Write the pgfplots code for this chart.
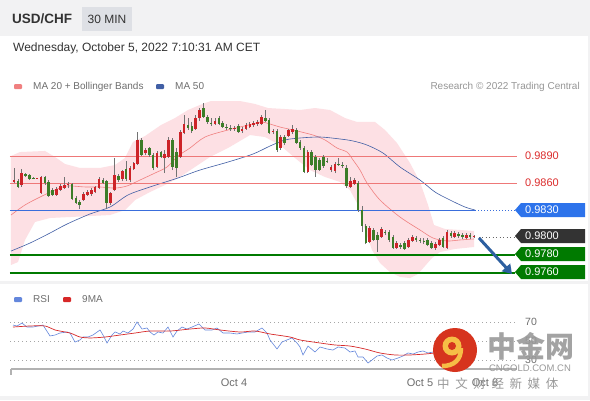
\documentclass[border=0pt]{standalone}
\usepackage{pgfplots}
\pgfplotsset{compat=1.18}
\usepackage{pgfplotstable}
\usetikzlibrary{arrows.meta}
\usepackage{fontspec}
\setmainfont{Liberation Sans}
\newfontfamily\cjk{Noto Sans CJK SC}

\definecolor{bandpink}{RGB}{253,224,228}
\definecolor{ma20}{RGB}{240,128,128}
\definecolor{ma50}{RGB}{65,95,165}
\definecolor{lvlred}{RGB}{238,120,120}
\definecolor{lvltxt}{RGB}{220,45,45}
\definecolor{lvlblue}{RGB}{58,110,220}
\definecolor{tagblue}{RGB}{45,115,235}
\definecolor{tagdark}{RGB}{51,51,51}
\definecolor{lvlgreen}{RGB}{0,122,0}
\definecolor{wick}{RGB}{115,115,115}
\definecolor{rsiblue}{RGB}{100,135,220}
\definecolor{rsired}{RGB}{215,40,40}
\definecolor{arrowblue}{RGB}{45,95,160}
\definecolor{hdrgray}{RGB}{242,242,243}
\definecolor{boxgray}{RGB}{222,224,229}
\definecolor{txtdark}{RGB}{51,51,51}
\definecolor{txtmid}{RGB}{110,110,110}
\definecolor{txtlight}{RGB}{150,150,150}
\definecolor{logored}{RGB}{214,52,30}
\definecolor{logoyel}{RGB}{246,190,70}

\pgfplotstableread{
i o h l c
0 0.98611 0.98767 0.98600 0.98633
1 0.98622 0.98644 0.98544 0.98556
2 0.98578 0.98756 0.98556 0.98711
3 0.98700 0.98711 0.98667 0.98678
4 0.98689 0.98700 0.98633 0.98644
5 0.98656 0.98667 0.98644 0.98650
6 0.98650 0.98661 0.98644 0.98656
7 0.98489 0.98678 0.98478 0.98667
8 0.98667 0.98678 0.98578 0.98600
9 0.98611 0.98633 0.98444 0.98456
10 0.98522 0.98544 0.98456 0.98467
11 0.98467 0.98556 0.98456 0.98533
12 0.98522 0.98589 0.98511 0.98567
13 0.98544 0.98667 0.98533 0.98578
14 0.98578 0.98611 0.98544 0.98589
15 0.98589 0.98600 0.98411 0.98422
16 0.98433 0.98456 0.98367 0.98378
17 0.98389 0.98411 0.98311 0.98356
18 0.98411 0.98500 0.98400 0.98478
19 0.98467 0.98522 0.98456 0.98500
20 0.98478 0.98544 0.98456 0.98522
21 0.98500 0.98567 0.98489 0.98556
22 0.98544 0.98667 0.98533 0.98644
23 0.98633 0.98656 0.98589 0.98600
24 0.98622 0.98633 0.98311 0.98378
25 0.98378 0.98500 0.98356 0.98489
26 0.98522 0.98878 0.98511 0.98689
27 0.98678 0.98700 0.98611 0.98633
28 0.98644 0.98744 0.98622 0.98733
29 0.98756 0.98844 0.98622 0.98644
30 0.98633 0.98789 0.98611 0.98767
31 0.98756 0.98833 0.98744 0.98822
32 0.98811 0.99167 0.98800 0.99078
33 0.99078 0.99100 0.98900 0.98911
34 0.98933 0.98989 0.98911 0.98967
35 0.98989 0.99000 0.98889 0.98911
36 0.98911 0.98933 0.98744 0.98767
37 0.98778 0.98956 0.98767 0.98933
38 0.98944 0.98956 0.98878 0.98889
39 0.98878 0.98967 0.98711 0.98922
40 0.98889 0.99111 0.98878 0.99078
41 0.99078 0.99100 0.98744 0.98778
42 0.98944 0.98989 0.98667 0.98767
43 0.98889 0.99189 0.98878 0.99167
44 0.99156 0.99356 0.99144 0.99256
45 0.99244 0.99322 0.99189 0.99211
46 0.99233 0.99278 0.99156 0.99178
47 0.99200 0.99356 0.99189 0.99322
48 0.99322 0.99433 0.99289 0.99411
49 0.99433 0.99489 0.99322 0.99333
50 0.99333 0.99356 0.99256 0.99278
51 0.99267 0.99322 0.99233 0.99256
52 0.99256 0.99322 0.99244 0.99289
53 0.99322 0.99344 0.99244 0.99256
54 0.99267 0.99289 0.99211 0.99222
55 0.99222 0.99256 0.99189 0.99211
56 0.99211 0.99244 0.99178 0.99200
57 0.99200 0.99233 0.99178 0.99211
58 0.99233 0.99256 0.99156 0.99167
59 0.99178 0.99222 0.99156 0.99200
60 0.99200 0.99267 0.99189 0.99244
61 0.99222 0.99278 0.99211 0.99256
62 0.99244 0.99289 0.99222 0.99267
63 0.99256 0.99300 0.99233 0.99278
64 0.99256 0.99356 0.99244 0.99333
65 0.99322 0.99411 0.99278 0.99289
66 0.99300 0.99322 0.99144 0.99156
67 0.99167 0.99200 0.99144 0.99178
68 0.99178 0.99200 0.98944 0.98967
69 0.98989 0.99133 0.98967 0.99111
70 0.99111 0.99133 0.99022 0.99044
71 0.99122 0.99200 0.99111 0.99189
72 0.99167 0.99244 0.99144 0.99200
73 0.99189 0.99211 0.99033 0.99044
74 0.99056 0.99078 0.98967 0.98989
75 0.98989 0.99011 0.98711 0.98722
76 0.98722 0.98967 0.98711 0.98944
77 0.98944 0.98967 0.98789 0.98800
78 0.98889 0.98911 0.98667 0.98744
79 0.98856 0.98878 0.98733 0.98744
80 0.98889 0.98911 0.98767 0.98789
81 0.98844 0.98878 0.98822 0.98833
82 0.98744 0.98800 0.98722 0.98778
83 0.98733 0.98833 0.98711 0.98811
84 0.98811 0.98878 0.98789 0.98800
85 0.98800 0.98833 0.98767 0.98789
86 0.98767 0.98800 0.98544 0.98567
87 0.98556 0.98667 0.98544 0.98622
88 0.98589 0.98656 0.98578 0.98633
89 0.98600 0.98622 0.98278 0.98300
90 0.98300 0.98344 0.98056 0.98122
91 0.98122 0.98144 0.97922 0.97933
92 0.97944 0.98122 0.97933 0.98100
93 0.98078 0.98100 0.97956 0.97967
94 0.98022 0.98056 0.97833 0.97967
95 0.98000 0.98111 0.97989 0.98089
96 0.98056 0.98078 0.98022 0.98044
97 0.98056 0.98078 0.97944 0.97967
98 0.98000 0.98022 0.97867 0.97878
99 0.97878 0.97956 0.97867 0.97933
100 0.97911 0.97933 0.97867 0.97889
101 0.97933 0.97956 0.97856 0.97867
102 0.97889 0.97989 0.97878 0.97967
103 0.97956 0.98022 0.97944 0.98000
104 0.97989 0.98011 0.97944 0.97967
105 0.97967 0.97989 0.97933 0.97956
106 0.97956 0.97989 0.97922 0.97944
107 0.97967 0.97989 0.97900 0.97911
108 0.97933 0.97956 0.97867 0.97878
109 0.97878 0.97944 0.97856 0.97922
110 0.97911 0.97989 0.97900 0.97967
111 0.97989 0.98011 0.97878 0.97889
112 0.97878 0.98078 0.97867 0.98056
113 0.98044 0.98067 0.97989 0.98011
114 0.98000 0.98067 0.97989 0.98044
115 0.98033 0.98056 0.97989 0.98011
116 0.98022 0.98044 0.97978 0.98000
117 0.97989 0.98044 0.97978 0.98022
118 0.98022 0.98044 0.97978 0.98000
119 0.98000 0.98022 0.97989 0.98006
}\candles

\begin{document}
\begin{tikzpicture}
\begin{scope}[x=1pt,y=-1pt]
\path[use as bounding box] (0,0) rectangle (590,400);
\fill[hdrgray] (0,0) rectangle (590,400);
\fill[white] (0,36) rectangle (588,396);
\fill[boxgray] (82,7) rectangle (132,31);
\node[anchor=west, inner sep=0, font=\fontsize{13.5}{16}\selectfont\bfseries, text=txtdark] at (12,19) {USD/CHF};
\node[inner sep=0, font=\fontsize{12}{14}\selectfont, text=txtdark] at (107,19) {30 MIN};
\node[anchor=west, inner sep=0, font=\fontsize{12}{14}\selectfont, text=txtdark] at (13,48.5) {Wednesday, October 5, 2022 7:10:31 AM CET};
\fill[ma20, rounded corners=1pt] (14,84) rectangle (22,89);
\node[anchor=west, inner sep=0, font=\fontsize{10}{12}\selectfont, text=txtmid] at (33,86.5) {MA 20 + Bollinger Bands};
\fill[ma50, rounded corners=1pt] (156,84) rectangle (164,89);
\node[anchor=west, inner sep=0, font=\fontsize{10}{12}\selectfont, text=txtmid] at (175,86.5) {MA 50};
\node[anchor=east, inner sep=0, font=\fontsize{10}{12}\selectfont, text=txtlight] at (580,86.5) {Research © 2022 Trading Central};
\fill[hdrgray] (0,281) rectangle (588,284);
\end{scope}

\begin{axis}[at={(10pt,-282pt)}, anchor=south west, scale only axis,
  width=505pt, height=186pt, xmin=-1.035, xmax=129.59, ymin=0.975, ymax=0.995667,
  hide axis, clip=false,
  colormap={updown}{rgb255(0cm)=(60,125,40); rgb255(1cm)=(205,35,40)},
  point meta min=0, point meta max=1]
% Bollinger band: upper band left to right, then lower band right to left
\addplot[fill=bandpink, draw=none] coordinates {
(-0.78,0.98900) (1.55,0.98944) (8.02,0.98956) (10.61,0.98889) (13.19,0.98811) (17.07,0.98767)
(22.25,0.98767) (26.13,0.98800) (28.71,0.98878) (30.78,0.99056) (33.89,0.99122) (38.02,0.99244)
(41.65,0.99322) (45.01,0.99411) (48.11,0.99467) (50.96,0.99511) (58.46,0.99511) (62.34,0.99478)
(65.70,0.99433) (70.10,0.99422) (73.98,0.99411) (77.86,0.99433) (81.74,0.99411) (85.62,0.99322)
(88.72,0.99278) (93.38,0.99278) (95.96,0.99189) (99.07,0.99044) (102.43,0.98822) (105.02,0.98611)
(107.09,0.98356) (108.64,0.98133) (111.48,0.98089) (115.36,0.98078) (118.99,0.98067)
(118.99,0.97889) (114.07,0.97867) (110.19,0.97833) (108.12,0.97767) (106.31,0.97678) (104.50,0.97589)
(102.43,0.97544) (99.84,0.97556) (97.26,0.97611) (94.67,0.97711) (92.60,0.97856) (90.79,0.98078)
(88.98,0.98356) (86.91,0.98522) (84.35,0.98611) (80.45,0.98667) (76.57,0.98744) (72.68,0.98878)
(68.81,0.99022) (64.92,0.99111) (61.05,0.99133) (55.35,0.98989) (50.70,0.98889) (46.82,0.98778)
(42.94,0.98667) (39.06,0.98578) (35.18,0.98500) (31.30,0.98411) (28.71,0.98300) (24.83,0.98244)
(19.66,0.98233) (14.49,0.98222) (9.31,0.98211) (5.43,0.98167) (2.85,0.97967) (1.03,0.97722)
(-0.78,0.97689)} -- cycle;
% MA 20
\addplot[ma20, line width=0.6pt, smooth] coordinates {
(-0.78,0.98244) (2.85,0.98356) (6.73,0.98444) (10.61,0.98522) (13.71,0.98567) (18.37,0.98556)
(22.25,0.98556) (26.13,0.98544) (29.23,0.98567) (32.59,0.98633) (36.47,0.98711) (39.58,0.98778)
(42.42,0.98900) (45.53,0.98989) (49.41,0.99111) (55.35,0.99189) (61.82,0.99256) (64.15,0.99278)
(68.81,0.99222) (72.17,0.99189) (77.34,0.99133) (80.45,0.99078) (83.55,0.98989) (86.14,0.98944)
(87.69,0.98856) (89.50,0.98744) (91.31,0.98600) (94.67,0.98411) (99.84,0.98222) (105.02,0.98078)
(108.38,0.97989) (112.00,0.97956) (115.36,0.97967) (118.99,0.97978)};
% MA 50
\addplot[ma50, line width=0.6pt, smooth] coordinates {
(-0.78,0.97844) (4.14,0.97933) (9.31,0.98044) (13.71,0.98144) (19.66,0.98256) (24.83,0.98333)
(29.49,0.98467) (35.18,0.98556) (42.42,0.98656) (48.11,0.98744) (55.35,0.98833) (61.82,0.98922)
(66.22,0.99011) (70.10,0.99078) (73.98,0.99100) (79.15,0.99111) (84.35,0.99089) (87.69,0.99067)
(91.31,0.99022) (95.45,0.98933) (99.84,0.98778) (105.02,0.98633) (108.90,0.98500) (112.78,0.98411)
(116.66,0.98333) (119.25,0.98300)};
% levels
\addplot[lvlred, line width=0.7pt] coordinates {(-1.035,0.9890) (130.1,0.9890)};
\addplot[lvlred, line width=0.7pt] coordinates {(-1.035,0.9860) (130.1,0.9860)};
\addplot[lvlblue, line width=0.9pt] coordinates {(-1.035,0.9830) (119.25,0.9830)};
\addplot[lvlblue, line width=0.9pt, dash pattern=on 1pt off 2pt] coordinates {(119.25,0.9830) (129.59,0.9830)};
\addplot[black!60, line width=0.8pt, dash pattern=on 1pt off 2.5pt] coordinates {(120.2,0.9800) (129.59,0.9800)};
\addplot[lvlgreen, line width=2pt] coordinates {(-1.035,0.9780) (129.59,0.9780)};
\addplot[lvlgreen, line width=2pt] coordinates {(-1.035,0.9760) (129.59,0.9760)};
% candles
\addplot[wick, line width=0.7pt, no markers, quiver={u=0, v=\thisrow{h}-\thisrow{l}}] table[x=i, y=l] {\candles};
\addplot[line width=2.6pt, no markers, point meta={\thisrow{c}>\thisrow{o}},
  quiver={u=0, v=\thisrow{c}-\thisrow{o}, colored=mapped color}] table[x=i, y=o] {\candles};
\end{axis}

\begin{axis}[at={(10pt,-369pt)}, anchor=south west, scale only axis,
  width=505pt, height=64pt, xmin=-1.035, xmax=129.59, ymin=20.53, ymax=87.89,
  hide axis, clip=false]
\addplot[black!35, line width=0.7pt, dash pattern=on 1pt off 3pt] coordinates {(-1.035,70) (129.59,70)};
\addplot[black!35, line width=0.7pt, dash pattern=on 1pt off 3pt] coordinates {(-1.035,50) (129.59,50)};
\addplot[black!35, line width=0.7pt, dash pattern=on 1pt off 3pt] coordinates {(-1.035,30) (129.59,30)};
\addplot[rsiblue, line width=0.6pt] coordinates {
(-0.26,66.8) (0.78,65.8) (2.07,68.9) (3.36,64.7) (4.91,64.7) (7.50,66.8) (9.31,55.3) (10.61,56.3)
(11.90,58.4) (13.71,59.5) (14.49,58.4) (15.78,48.9) (17.07,51.1) (17.85,54.2) (19.14,54.2) (20.43,56.3)
(22.25,61.6) (23.02,56.3) (24.06,47.9) (25.35,56.3) (26.13,59.5) (27.42,57.4) (28.19,60.5) (29.49,58.4)
(30.78,62.6) (31.82,70.0) (33.11,62.6) (34.40,63.7) (35.18,59.5) (36.21,56.3) (37.25,59.5) (38.54,58.4)
(39.83,64.7) (41.13,54.2) (42.16,60.5) (43.46,64.7) (44.75,62.6) (46.04,64.7) (47.85,67.9) (49.41,61.6)
(51.22,61.6) (52.51,63.7) (54.06,58.4) (55.87,58.4) (57.68,57.4) (58.98,58.4) (60.53,59.5) (62.34,59.5)
(64.15,63.7) (65.44,58.4) (66.22,51.1) (68.03,41.6) (69.32,48.9) (70.62,51.1) (71.91,53.2) (73.20,47.9)
(73.98,43.7) (74.75,35.3) (76.05,44.7) (77.86,38.4) (79.15,43.7) (80.96,41.6) (82.51,40.5) (83.81,43.7)
(85.62,42.6) (86.91,38.4) (88.20,39.5) (88.98,33.2) (90.27,33.2) (91.57,26.8) (92.60,30.0) (93.90,34.2)
(95.19,35.3) (96.48,32.1) (97.78,30.0) (99.33,32.1) (100.62,34.2) (101.91,37.4) (103.21,36.3) (104.50,38.4)
(105.79,39.5) (107.09,37.4) (108.38,38.4) (110.19,40.5) (112.00,38.4) (114.07,42.6) (116.14,43.7) (118.99,42.6)};
\addplot[rsired, line width=0.7pt, smooth] coordinates {
(-0.26,64.7) (4.14,65.8) (8.02,65.8) (10.61,61.6) (14.49,58.4) (17.07,54.2) (19.66,53.2) (23.54,54.2)
(27.42,56.3) (31.30,58.4) (35.18,60.5) (40.35,60.5) (45.53,62.6) (49.41,63.7) (53.29,61.6) (58.46,59.5)
(62.34,60.5) (66.22,57.4) (71.39,54.2) (73.98,51.1) (79.15,47.9) (83.03,45.8) (86.91,44.7) (90.79,41.6)
(94.67,37.4) (98.55,35.3) (102.43,35.3) (106.31,36.3) (108.90,37.4) (114.07,39.5) (118.99,40.5)};
\end{axis}

\begin{scope}[x=1pt,y=-1pt]
% price labels
\node[anchor=west, inner sep=0, font=\fontsize{11}{13}\selectfont, text=lvltxt] at (525,156) {0.9890};
\node[anchor=west, inner sep=0, font=\fontsize{11}{13}\selectfont, text=lvltxt] at (525,183) {0.9860};
\fill[tagblue] (515,210) -- (521,203) -- (585,203) -- (585,217) -- (521,217) -- cycle;
\node[anchor=west, inner sep=0, font=\fontsize{11}{13}\selectfont, text=white] at (525,210) {0.9830};
\fill[tagdark] (515,236) -- (521,229) -- (585,229) -- (585,243) -- (521,243) -- cycle;
\node[anchor=west, inner sep=0, font=\fontsize{11}{13}\selectfont, text=white] at (525,236) {0.9800};
\fill[lvlgreen] (515,254) -- (521,247) -- (585,247) -- (585,261) -- (521,261) -- cycle;
\node[anchor=west, inner sep=0, font=\fontsize{11}{13}\selectfont, text=white] at (525,254) {0.9780};
\fill[lvlgreen] (515,272) -- (521,265) -- (585,265) -- (585,279) -- (521,279) -- cycle;
\node[anchor=west, inner sep=0, font=\fontsize{11}{13}\selectfont, text=white] at (525,272) {0.9760};
\draw[arrowblue, line width=3pt, -{Triangle[length=9pt,width=11pt]}] (479,238) -- (512,274);
% RSI legend and labels
\fill[rsiblue, rounded corners=1pt] (14,297) rectangle (22,302);
\node[anchor=west, inner sep=0, font=\fontsize{10}{12}\selectfont, text=txtmid] at (33,299.5) {RSI};
\fill[rsired, rounded corners=1pt] (63,297) rectangle (71,302);
\node[anchor=west, inner sep=0, font=\fontsize{10}{12}\selectfont, text=txtmid] at (82,299.5) {9MA};
\node[anchor=west, inner sep=0, font=\fontsize{10.5}{12}\selectfont, text=txtmid] at (525,322) {70};
\node[anchor=west, inner sep=0, font=\fontsize{10.5}{12}\selectfont, text=txtmid] at (525,341) {50};
\node[anchor=west, inner sep=0, font=\fontsize{10.5}{12}\selectfont, text=txtmid] at (525,360) {30};
\draw[black!30, line width=1.3pt] (11,369) -- (517,369);
\draw[black!30, line width=1.3pt] (11,369) -- (11,375);
\node[inner sep=0, font=\fontsize{11}{13}\selectfont, text=txtmid] at (234,383) {Oct 4};
\node[inner sep=0, font=\fontsize{11}{13}\selectfont, text=txtmid] at (420,383) {Oct 5};
\node[inner sep=0, font=\fontsize{11}{13}\selectfont, text=txtmid] at (485,383) {Oct 8};
% watermark
\fill[logored] (455,350) circle (22);
\fill[logoyel] (452,346) circle (9.5);
\fill[logored] (452,346) circle (4);
\draw[logoyel, line width=4.5pt] (461,348) .. controls (461,360) and (454,366) .. (442,366);
\node[inner sep=0, font=\cjk\fontsize{29}{32}\selectfont\bfseries, text=black!40, opacity=0.9] at (531,346) {中金网};
\node[inner sep=0, font=\fontsize{9.5}{11}\selectfont, text=black!40] at (530,368.5) {CNGOLD.COM.CN};
\node[anchor=west, inner sep=0, font=\cjk\fontsize{12.5}{14}\selectfont, text=black!40] at (437,384) {中\ \ 文\ \ 财\ \ 经\ \ 新\ \ 媒\ \ 体};
\end{scope}
\end{tikzpicture}
\end{document}
